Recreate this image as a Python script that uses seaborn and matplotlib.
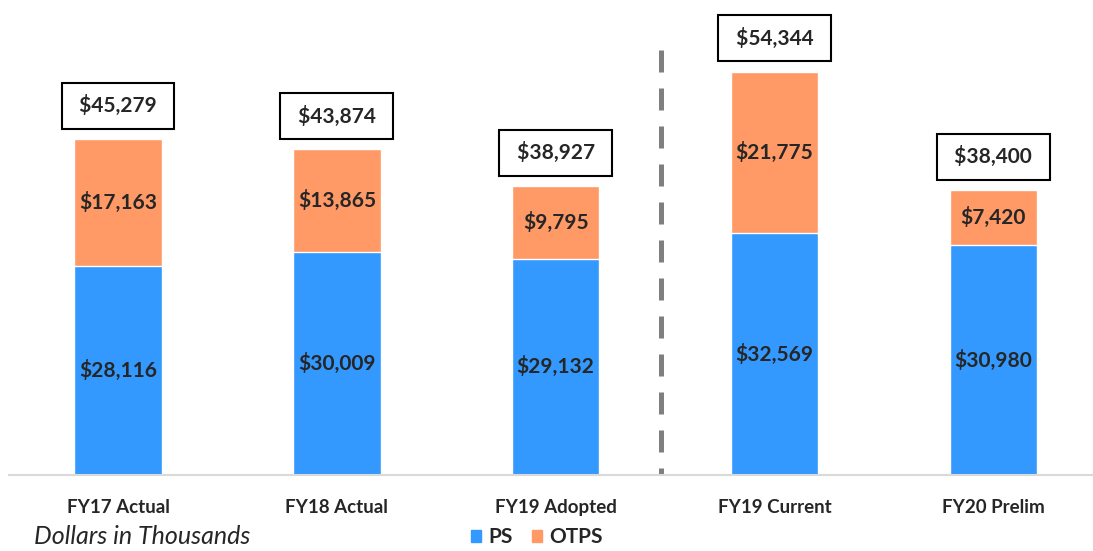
import numpy as np
import pandas as pd
import seaborn as sns
import matplotlib.pyplot as plt
from matplotlib.patches import Patch

years = ["FY17 Actual", "FY18 Actual", "FY19 Adopted", "FY19 Current", "FY20 Prelim"]
ps = [28116, 30009, 29132, 32569, 30980]
otps = [17163, 13865, 9795, 21775, 7420]
totals = [45279, 43874, 38927, 54344, 38400]

df = pd.DataFrame({"year": years, "PS": ps, "OTPS": otps, "Total": totals})

sns.set_style("white")
plt.rcParams["font.family"] = ["Lato", "DejaVu Sans"]

blue = "#3399ff"
orange = "#ff9966"

fig = plt.figure(figsize=(10.93, 5.51), dpi=100)
ax = fig.add_axes([0.0079, 0.138, 1.001, 0.862])

# orange total bar underneath, blue PS bar on top -> stacked look
sns.barplot(data=df, x="year", y="Total", color=orange, width=0.4, saturation=1,
            errorbar=None, ax=ax)
sns.barplot(data=df, x="year", y="PS", color=blue, width=0.4, saturation=1,
            errorbar=None, ax=ax)

ax.set_ylim(0, 64000)
ax.set_xlim(-0.5, 4.5)
ax.set_yticks([])
ax.set_xlabel("")
ax.set_ylabel("")
for s in ["left", "top", "right"]:
    ax.spines[s].set_visible(False)
ax.spines["bottom"].set_color("#d9d9d9")
ax.spines["bottom"].set_linewidth(1.5)
ax.tick_params(axis="x", length=0, pad=17, labelsize=13.5)
for lab in ax.get_xticklabels():
    lab.set_fontweight("bold")

for i in range(len(years)):
    ax.text(i, ps[i] / 2, f"${ps[i]:,}", ha="center", va="center",
            fontsize=15, fontweight="bold")
    ax.text(i, ps[i] + otps[i] / 2, f"${otps[i]:,}", ha="center", va="center",
            fontsize=15, fontweight="bold")
    ax.annotate(f" ${totals[i]:,} ", (i, totals[i]), xytext=(0, 24),
                textcoords="offset points", ha="center", va="center",
                fontsize=15, fontweight="bold",
                bbox=dict(boxstyle="square,pad=0.6", fc="white", ec="black", lw=1.5))

# divider between actual/adopted and current/prelim
ax.plot([2.48, 2.48], [57300, 0], color="#7f7f7f", lw=3.6, dashes=(4.4, 3.2),
        solid_capstyle="butt", dash_capstyle="butt")

fig.text(142 / 1093, 1 - 537 / 551, "Dollars in Thousands", ha="center", va="center",
         fontsize=18, style="italic")
handles = [Patch(color=blue, label="PS"), Patch(color=orange, label="OTPS")]
fig.legend(handles=handles, loc="center", bbox_to_anchor=(537 / 1093, 1 - 537 / 551),
           ncol=2, frameon=False, prop=dict(weight="bold", size=15),
           handlelength=0.5, handleheight=0.5, handletextpad=0.35, columnspacing=0.9,
           borderpad=0, borderaxespad=0)

plt.savefig("out.png", dpi=100)
